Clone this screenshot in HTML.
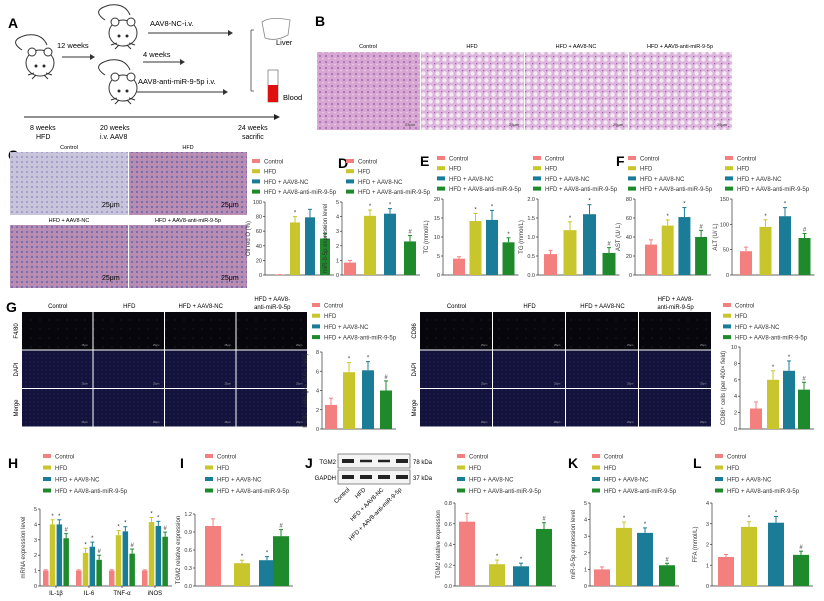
<!DOCTYPE html>
<html><head><meta charset="utf-8"><style>
body{margin:0;background:#fff;width:824px;height:601px;overflow:hidden}
svg{display:block}
text{font-family:"Liberation Sans",sans-serif}
</style></head><body>
<svg id="s" width="824" height="601" xmlns="http://www.w3.org/2000/svg">
<defs>
<pattern id="he" width="6" height="6" patternUnits="userSpaceOnUse"><rect width="6" height="6" fill="#d8a6d2"/><circle cx="2" cy="2" r="1" fill="#a06ab0"/><circle cx="5" cy="4.5" r="0.8" fill="#f0d6ee"/></pattern>
<pattern id="he2" width="7" height="7" patternUnits="userSpaceOnUse"><rect width="7" height="7" fill="#dcb4dc"/><circle cx="3.5" cy="3.5" r="2.2" fill="#f4eaf4"/><circle cx="0.5" cy="0.5" r="0.8" fill="#9a62a8"/></pattern>
<pattern id="or1" width="5" height="5" patternUnits="userSpaceOnUse"><rect width="5" height="5" fill="#c8c4dc"/><circle cx="2" cy="2" r="0.9" fill="#8a86b8"/></pattern>
<pattern id="or2" width="5" height="5" patternUnits="userSpaceOnUse"><rect width="5" height="5" fill="#b48cb4"/><circle cx="2" cy="2" r="1" fill="#6a64a8"/><circle cx="4" cy="4" r="0.8" fill="#d88ca0"/></pattern>
<pattern id="if1" width="9" height="9" patternUnits="userSpaceOnUse"><rect width="9" height="9" fill="#06060c"/><circle cx="4" cy="5" r="0.5" fill="#2a4a2a"/></pattern>
<pattern id="if2" width="4" height="4" patternUnits="userSpaceOnUse"><rect width="4" height="4" fill="#12123a"/><circle cx="2" cy="2" r="0.6" fill="#2a2a70"/></pattern>
</defs>
<g id="g"></g>
</svg>
<script>
var g=document.getElementById('g');var h='';
var C=['#f47f7f','#c9c52c','#1a7c96','#1f8a2c'];
var N=['Control','HFD','HFD + AAV8-NC','HFD + AAV8-anti-miR-9-5p'];
function t(x,y,s,sz,o){o=o||'';h+='<text x="'+x+'" y="'+y+'" font-size="'+sz+'" '+o+'>'+s+'</text>';}
function r(x,y,w,hh,f,o){h+='<rect x="'+x+'" y="'+y+'" width="'+w+'" height="'+hh+'" fill="'+f+'" '+(o||'')+'/>';}
function L(x1,y1,x2,y2,c,w){h+='<line x1="'+x1+'" y1="'+y1+'" x2="'+x2+'" y2="'+y2+'" stroke="'+(c||'#333')+'" stroke-width="'+(w||0.7)+'"/>';}
function leg(x,y,dy){for(var i=0;i<4;i++){r(x,y+i*dy-3,8,4,C[i]);t(x+12,y+i*dy+1.5,N[i],6,'fill="#333"');}}
function bars(ax,top,bot,max,ticks,xs,w,vals,errs,marks,yl,labs){
 L(ax,top,ax,bot);L(ax,bot,xs[xs.length-1]+w+4,bot);
 ticks.forEach(function(v){var y=bot-(bot-top)*v/max;L(ax-2,y,ax,y);t(ax-3,y+2,v,5.5,'text-anchor="end" fill="#333"');});
 for(var i=0;i<vals.length;i++){var c=C[i%4];var y=bot-(bot-top)*vals[i]/max;var ye=bot-(bot-top)*(vals[i]+errs[i])/max;
  L(xs[i]+w/2,y,xs[i]+w/2,ye,c,1);L(xs[i]+w/2-2,ye,xs[i]+w/2+2,ye,c,1);r(xs[i],y,w,bot-y,c);
  if(marks[i])t(xs[i]+w/2,ye-2,marks[i],6,'text-anchor="middle" fill="#333"');}
 var cy=(top+bot)/2;t(ax-15,cy,yl,6,'text-anchor="middle" transform="rotate(-90 '+(ax-15)+' '+cy+')" fill="#333"');
}
function step(x0,s,w){return [x0,x0+s,x0+2*s,x0+3*s];}
// Panel A
t(8,28,'A',14,'font-weight="bold"');
function mouse(x,y,s){h+='<g transform="translate('+x+','+y+') scale('+s+')" fill="#fff" stroke="#333" stroke-width="1"><path d="M0 -5 Q-15 -15 5 -20 Q20 -22 25 -10" fill="none"/><ellipse cx="18" cy="8" rx="14" ry="13"/><circle cx="10" cy="-3" r="4"/><circle cx="26" cy="-3" r="4"/><circle cx="14" cy="11" r="1" fill="#000"/><circle cx="22" cy="11" r="1" fill="#000"/><path d="M12 18 L6 20 M24 18 L30 20 M14 20 L10 24 M22 20 L26 24" /></g>';}
mouse(22,55,1);mouse(105,25,1);mouse(105,80,1);
t(57,48,'12 weeks',7.5);L(62,57,90,57,'#333',1);h+='<polygon points="90,54 95,57 90,60" fill="#333"/>';
t(150,26,'AAV8-NC-i.v.',7.5);L(148,33,228,33,'#333',1);h+='<polygon points="228,30 233,33 228,36" fill="#333"/>';
t(143,57,'4 weeks',7.5);L(143,62,180,62,'#333',1);h+='<polygon points="180,59 185,62 180,65" fill="#333"/>';
t(138,84,'AAV8-anti-miR-9-5p i.v.',7.5);L(137,92,223,92,'#333',1);h+='<polygon points="223,89 228,92 223,95" fill="#333"/>';
L(251,30,251,91,'#444',0.8);L(251,30,254,30);L(251,91,254,91);
h+='<path d="M262 22 Q270 16 290 20 L288 35 Q275 42 265 38 Z" fill="#fff" stroke="#888" stroke-width="0.8"/>';t(276,45,'Liver',7.5);
r(268,70,10,32,'#fff','stroke="#555" stroke-width="0.6"');r(268,85,10,17,'#e01010');t(283,100,'Blood',7.5);
L(24,117,274,117,'#222',1);h+='<polygon points="274,114 280,117 274,120" fill="#222"/>';
t(30,130,'8 weeks',7,'');t(100,130,'20 weeks',7);t(238,130,'24 weeks',7);
t(36,139,'HFD',7);t(100,139,'i.v. AAV8',7);t(242,139,'sacrific',7);
// B
t(315,26,'B',14,'font-weight="bold"');
var bt=['Control','HFD','HFD + AAV8-NC','HFD + AAV8-anti-miR-9-5p'];
for(var i=0;i<4;i++){var x=317+i*104;r(x,52,103,78,i==0?'url(#he)':'url(#he2)');t(x+51,48,bt[i],5.5,'text-anchor="middle"');t(x+88,126,'25μm',4,'fill="#333"');}
// C
t(8,160,'C',14,'font-weight="bold"');
var ct=['Control','HFD','HFD + AAV8-NC','HFD + AAV8-anti-miR-9-5p'];
[[10,152],[129,152],[10,225],[129,225]].forEach(function(p,i){r(p[0],p[1],118,63,i==0?'url(#or1)':'url(#or2)');t(p[0]+59,p[1]-3,ct[i],5.5,'text-anchor="middle"');t(p[0]+92,p[1]+55,'25μm',7);});
leg(252,162,10.2);
bars(265,202,275,100,[0,20,40,60,80,100],step(275,15),10,[0.5,72,79,50],[0,8,11,7],['','*','','*'],'Oil red O (%)');
// D
t(338,168,'D',14,'font-weight="bold"');leg(346,162,10.2);
bars(342,202,275,5,[0,1,2,3,4,5],step(344,20),12,[0.85,4.05,4.2,2.3],[0.15,0.4,0.35,0.4],['','*','*','#'],'miR-9-5p expression level');
// E
t(420,166,'E',14,'font-weight="bold"');leg(437,159,10.2);
bars(443,199,275,20,[0,5,10,15,20],step(453,16.5),12,[4.3,14.2,14.5,8.6],[0.5,2,2.5,1.2],['','*','*','*'],'TC (mmol/L)');
leg(533,159,10.2);
bars(538,199,275,2,['0.0','0.5','1.0','1.5','2.0'],step(544,19.5),13,[0.55,1.18,1.6,0.58],[0.1,0.22,0.25,0.14],['','*','*','#'],'TG (mmol/L)');
// F
t(616,166,'F',14,'font-weight="bold"');leg(628,159,10.2);
bars(635,199,275,80,[0,20,40,60,80],step(645,16.7),12,[32,52,61,40],[5,6,10,7],['','*','*','#'],'AST (U/ L)');
leg(725,159,10.2);
bars(732,199,275,150,[0,50,100,150],step(740,19.5),12,[47,95,116,73],[8,14,17,9],['','*','*','#'],'ALT (U/ L)');
// G
t(6,312,'G',14,'font-weight="bold"');
function ifgrid(x0,w,rows,cols,lab){for(var rr=0;rr<3;rr++)for(var c=0;c<4;c++){var x=x0+c*w,y=312+rr*38.5;r(x,y,w-1,37.5,rr==0?'url(#if1)':'url(#if2)');t(x+w-12,y+34,'25μm',2.5,'fill="#aaa"');}
 rows.forEach(function(s,i){var y=312+i*38.5+19;t(x0-4,y,s,6,'text-anchor="middle" transform="rotate(-90 '+(x0-4)+' '+y+')"');});
 t(x0+w*0.5,308,'Control',6,'text-anchor="middle"');t(x0+w*1.5,308,'HFD',6,'text-anchor="middle"');t(x0+w*2.5,308,'HFD + AAV8-NC',6,'text-anchor="middle"');t(x0+w*3.5,301,'HFD + AAV8-',6,'text-anchor="middle"');t(x0+w*3.5,309,'anti-miR-9-5p',6,'text-anchor="middle"');}
ifgrid(22,71.5,['F4/80','DAPI','Merge']);
ifgrid(420,73,['CD86','DAPI','Merge']);
leg(312,306,10.7);
bars(322,352,429,8,[0,2,4,6,8],[325,343,362,380],12,[2.5,5.9,6.1,4.0],[0.7,1,0.9,1],['','*','*','#'],'F4/80⁺ cells (per 400× field)');
leg(723,306,10.7);
bars(740,347,429,10,[0,2,4,6,8,10],[750,767,783,798],12,[2.5,6,7.1,4.8],[0.8,1.1,1.2,0.9],['','*','*','#'],'CD86⁺ cells (per 400× field)');
// H
t(8,468,'H',14,'font-weight="bold"');leg(43,457,11.5);
var hx=[],hv=[[1,4,4,3.1],[1,2.15,2.55,1.7],[1,3.3,3.55,2.1],[1,4.15,3.9,3.2]],vals=[],er=[],mk=[];
hv.forEach(function(gp,k){for(var i=0;i<4;i++){hx.push(43+k*33+i*6.8);vals.push(gp[i]);er.push(i?0.3:0.05);mk.push(i==0?'':(i==3?'#':'*'));}});
bars(40,509,586,5,[0,1,2,3,4,5],hx,5.5,vals,er,mk,'mRNA expression level');
['IL-1β','IL-6','TNF-α','iNOS'].forEach(function(s,k){L(43+k*33+13,586,43+k*33+13,588);t(43+k*33+13,595,s,6,'text-anchor="middle"');});
// I
t(180,468,'I',14,'font-weight="bold"');leg(205,457,11.5);
bars(195,514,586,1.2,['0.0','0.3','0.6','0.9','1.2'],[205,234,259,273],16,[1,0.38,0.43,0.83],[0.12,0.05,0.06,0.11],['','*','*','#'],'TGM2 relative expression');
// J
t(305,468,'J',14,'font-weight="bold"');
r(338,454,72,14,'#f4f4f4','stroke="#444" stroke-width="0.6"');r(338,470,72,14,'#f4f4f4','stroke="#444" stroke-width="0.6"');
[[342,4],[360,2.5],[378,2.5],[396,4]].forEach(function(b){r(b[0],461-b[1]/2,12,b[1],'#222');});
[342,360,378,396].forEach(function(x){r(x,475,12,4,'#222');});
t(336,464,'TGM2',6,'text-anchor="end"');t(336,480,'GAPDH',6,'text-anchor="end"');t(413,464,'78 kDa',6);t(413,480,'37 kDa',6);
[['Control',350],['HFD',366],['HFD + AAV8-NC',384],['HFD + AAV8-anti-miR-9-5p',402]].forEach(function(a){t(a[1],490,a[0],6,'text-anchor="end" transform="rotate(-45 '+a[1]+' 490)"');});
leg(457,457,11.5);
bars(455,503,586,0.8,['0.0','0.2','0.4','0.6','0.8'],[459,489,513,536],16,[0.62,0.21,0.19,0.55],[0.08,0.04,0.03,0.06],['','*','*','#'],'TGM2 relative expression');
// K
t(568,468,'K',14,'font-weight="bold"');leg(592,457,11.5);
bars(590,503,586,5,[0,1,2,3,4,5],[594,616,637,659],16,[1,3.5,3.2,1.25],[0.15,0.35,0.3,0.12],['','*','*','#'],'miR-9-5p expression level');
// L
t(693,468,'L',14,'font-weight="bold"');leg(715,457,11.5);
bars(712,503,586,4,[0,1,2,3,4],[718,741,768,793],16,[1.4,2.85,3.05,1.5],[0.12,0.25,0.3,0.18],['','*','*','#'],'FFA (mmol/L)');
g.innerHTML=h;
</script>
</body></html>
